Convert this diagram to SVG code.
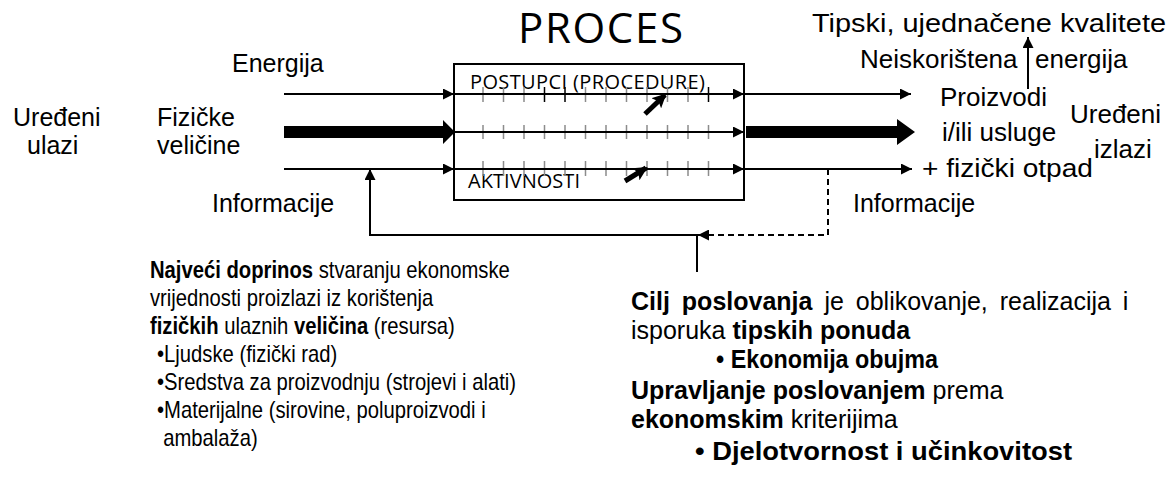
<svg xmlns="http://www.w3.org/2000/svg" width="1174" height="477" viewBox="0 0 1174 477">
<defs>
<style>
.t{font-family:"Liberation Sans",Arial,sans-serif;font-size:25px;fill:#000}
.r{font-size:26px}
.s{font-size:23px}
.m{font-size:25px}
.b{font-weight:bold}
.o{font-family:"Open Sans",sans-serif;fill:#000}
.ln{stroke:#000;stroke-width:2;fill:none}
.tk{stroke:#8c8c8c;stroke-width:1.5}
.tkb{stroke:#000;stroke-width:1.5}
.big{fill:#000}
.bold-arrow{stroke:#000;stroke-width:5}
</style>
<marker id="ah" markerUnits="userSpaceOnUse" markerWidth="11" markerHeight="11" refX="11" refY="5.5" orient="auto">
<path d="M0,0 L11,5.5 L0,11 z" fill="#000"/>
</marker>
<marker id="bh" markerUnits="userSpaceOnUse" markerWidth="14" markerHeight="14" refX="12" refY="7" orient="auto">
<path d="M0,0 L14,7 L0,14 L3,7 z" fill="#000"/>
</marker>
</defs>
<rect width="1174" height="477" fill="#fff"/>

<g id="title"><text class="o" x="518" y="43" font-size="42" textLength="165" lengthAdjust="spacing">PROCES</text></g>

<g id="process">
<rect x="454" y="64" width="290" height="136" fill="#fff" stroke="#000" stroke-width="2"/>
<text class="o" x="470" y="89" font-size="20" textLength="235" lengthAdjust="spacing">POSTUPCI (PROCEDURE)</text>
<text class="o" x="468" y="188" font-size="20" textLength="112" lengthAdjust="spacing">AKTIVNOSTI</text>
<g id="ticks">
<path class="tk" d="M483,87V102M503.5,87V102M524,87V102M585.5,87V102M606,87V102M626.5,87V102M647,87V102M667.5,87V102M688,87V102"/>
<path class="tkb" d="M544.5,87V102M565,87V102M708.5,87V102"/>
<path class="tk" d="M483,125V139M503.5,125V139M524,125V139M544.5,125V139M565,125V139M585.5,125V139M606,125V139M626.5,125V139M647,125V139M667.5,125V139M688,125V139M708.5,125V139"/>
<path class="tk" d="M483,161V176M503.5,161V176M524,161V176M544.5,161V176M565,161V176M585.5,161V176M606,161V176M626.5,161V176M647,161V176M667.5,161V176M688,161V176M708.5,161V176"/>
</g>
</g>

<g id="connectors">
<line class="ln" x1="284" y1="94" x2="454" y2="94" marker-end="url(#ah)"/>
<line class="ln" x1="284" y1="169" x2="454" y2="169" marker-end="url(#ah)"/>
<polygon class="big" points="284,126 443,126 443,120 455,132 443,144 443,138 284,138"/>
<line class="ln" x1="454" y1="94" x2="744" y2="94" marker-end="url(#ah)"/>
<line class="ln" x1="454" y1="132" x2="744" y2="132" marker-end="url(#ah)"/>
<line class="ln" x1="454" y1="169" x2="744" y2="169" marker-end="url(#ah)"/>
<line class="ln" x1="744" y1="94" x2="911" y2="94" marker-end="url(#ah)"/>
<line class="ln" x1="744" y1="169" x2="912" y2="169" marker-end="url(#ah)"/>
<polygon class="big" points="746,126 897,126 897,119 915,132 897,145 897,138 746,138"/>
<line class="bold-arrow" x1="645" y1="114" x2="665" y2="95" marker-end="url(#bh)"/>
<line class="bold-arrow" x1="625" y1="181" x2="646" y2="168" marker-end="url(#bh)"/>
<line class="ln" x1="1028" y1="89" x2="1028" y2="37" marker-end="url(#ah)"/>
<path class="ln" d="M828,169 V235 H698" stroke-dasharray="6,4" marker-end="url(#ah)"/>
<path class="ln" d="M697,272 V235 H370 V169" marker-end="url(#ah)"/>
</g>

<g id="inputs">
<text class="t" x="232" y="72">Energija</text>
<text class="t" x="13" y="126">Uređeni</text>
<text class="t" x="27" y="154">ulazi</text>
<text class="t" x="157" y="126">Fizičke</text>
<text class="t" x="157" y="154">veličine</text>
<text class="t" x="212" y="212">Informacije</text>
</g>

<g id="outputs">
<text class="t r" x="812" y="32" textLength="354" lengthAdjust="spacingAndGlyphs">Tipski, ujednačene kvalitete</text>
<text class="t r" y="68"><tspan x="860">Neiskorištena</tspan><tspan x="1035">energija</tspan></text>
<text class="t r" x="940" y="106">Proizvodi</text>
<text class="t r" x="942" y="141">i/ili usluge</text>
<text class="t r" x="922" y="177" textLength="171" lengthAdjust="spacingAndGlyphs">+ fizički otpad</text>
<text class="t r" x="1070" y="123">Uređeni</text>
<text class="t r" x="1094" y="158">izlazi</text>
<text class="t" x="853" y="212">Informacije</text>
</g>

<g id="note-left" transform="translate(18,0) scale(0.88,1)">
<text class="t s" x="150" y="278"><tspan class="b">Najveći doprinos</tspan> stvaranju ekonomske</text>
<text class="t s" x="150" y="306">vrijednosti proizlazi iz korištenja</text>
<text class="t s" x="150" y="334"><tspan class="b">fizičkih</tspan> ulaznih <tspan class="b">veličina</tspan> (resursa)</text>
<text class="t s" x="158" y="362">•Ljudske (fizički rad)</text>
<text class="t s" x="158" y="390">•Sredstva za proizvodnju (strojevi i alati)</text>
<text class="t s" x="158" y="418">•Materijalne (sirovine, poluproizvodi i</text>
<text class="t s" x="165" y="446">ambalaža)</text>
</g>

<g id="note-right">
<text class="t m" x="631" y="310" word-spacing="5"><tspan class="b">Cilj poslovanja</tspan> je oblikovanje, realizacija i</text>
<text class="t m" x="631" y="339">isporuka <tspan class="b">tipskih ponuda</tspan></text>
<text class="t m b" x="716" y="368" textLength="222" lengthAdjust="spacingAndGlyphs">• Ekonomija obujma</text>
<text class="t m" x="631" y="399"><tspan class="b">Upravljanje poslovanjem</tspan> prema</text>
<text class="t m" x="631" y="428"><tspan class="b">ekonomskim</tspan> kriterijima</text>
<text class="t m b" x="695" y="460" textLength="377" lengthAdjust="spacingAndGlyphs">• Djelotvornost i učinkovitost</text>
</g>
</svg>
